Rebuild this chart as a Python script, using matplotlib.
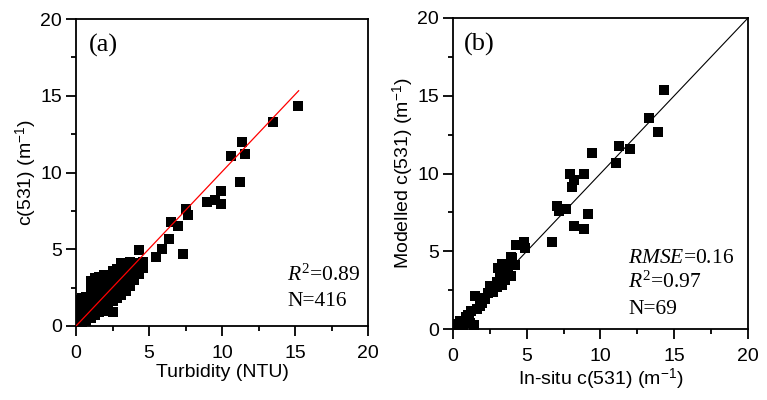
import numpy as np
import matplotlib
matplotlib.use("Agg")
import matplotlib.pyplot as plt
from matplotlib.ticker import MultipleLocator

plt.rcParams.update({
    "font.family": ["Liberation Sans", "DejaVu Sans"],
    "mathtext.fontset": "custom",
    "mathtext.rm": "Liberation Sans",
    "mathtext.it": "Liberation Serif:italic",
    "mathtext.sf": "Liberation Serif",
})

# ── panel (a): c(531) vs turbidity ────────────────────────────────────────────
turb_a = [
    0.1, 0.1, 0.1, 0.1, 0.1,
    0.4, 0.4, 0.4, 0.4, 0.4,
    0.7, 0.7, 0.7, 0.7, 0.7,
    1.0, 1.0, 1.0, 1.0, 1.0, 1.0, 1.0,
    1.3, 1.3, 1.3, 1.3, 1.3, 1.3, 1.3,
    1.6, 1.6, 1.6, 1.6, 1.6, 1.6, 1.6,
    1.9, 1.9, 1.9, 1.9, 1.9, 1.9, 1.9,
    2.2, 2.2, 2.2, 2.2, 2.2, 2.2,
    2.5, 2.5, 2.5, 2.5, 2.5, 2.5, 2.5,
    2.8, 2.8, 2.8, 2.8, 2.8, 2.8,
    3.1, 3.1, 3.1, 3.1, 3.1, 3.1,
    3.4, 3.4, 3.4, 3.4,
    3.7, 3.7, 3.7, 3.7,
    4.0, 4.0, 4.0,
    4.3, 4.3, 4.3,
    4.6, 4.6,
    5.5, 5.9, 6.4, 6.5, 7.0, 7.3, 7.5, 7.7,
    8.95, 9.5, 9.9, 9.95, 10.6, 11.2, 11.4, 11.6, 13.5, 15.2,
]
c_a = [
    0.1, 0.5, 0.9, 1.3, 1.7,
    0.2, 0.6, 1.0, 1.4, 1.8,
    0.3, 0.7, 1.1, 1.5, 1.9,
    0.5, 0.9, 1.3, 1.7, 2.1, 2.5, 2.9,
    0.7, 1.1, 1.5, 1.9, 2.3, 2.7, 3.1,
    0.9, 1.3, 1.7, 2.1, 2.5, 2.9, 3.2,
    1.0, 1.4, 1.8, 2.2, 2.6, 3.0, 3.3,
    1.3, 1.7, 2.1, 2.5, 2.9, 3.3,
    0.9, 1.6, 2.0, 2.4, 2.8, 3.2, 3.6,
    1.8, 2.2, 2.6, 3.0, 3.4, 3.7,
    2.0, 2.4, 2.8, 3.2, 3.6, 4.1,
    2.3, 2.9, 3.4, 3.9,
    2.6, 3.1, 3.6, 4.2,
    3.0, 3.5, 4.1,
    3.4, 3.9, 4.95,
    3.8, 4.2,
    4.5, 5.0, 5.7, 6.8, 6.5, 4.7, 7.6, 7.2,
    8.1, 8.2, 7.95, 8.8, 11.1, 9.4, 12.0, 11.2, 13.3, 14.3,
]
fit_x = [0.0, 15.25]
fit_slope = 1.005

# ── panel (b): modelled vs in-situ c(531) ─────────────────────────────────────
insitu_b = [
    14.3, 13.3, 13.9, 11.25, 12.0, 11.07, 9.4, 7.9, 8.86, 8.2, 8.1,
    7.2, 7.66, 7.05, 9.16, 8.2, 8.86, 6.7, 4.3, 4.8, 4.9, 4.2, 3.9,
    3.6, 3.4, 3.07, 3.2, 3.9, 3.3, 2.5, 2.4, 1.9, 1.5, 1.8, 1.25,
    0.9, 1.15, 0.45, 0.25, 0.7, 1.4, 1.1, 0.15, 0.6, 2.95, 3.5, 3.75,
    3.97, 4.5, 2.7, 2.2, 1.6, 1.0, 0.35, 0.8, 3.0, 3.3, 2.0,
]
model_b = [
    15.4, 13.6, 12.7, 11.76, 11.55, 10.7, 11.3, 10.0, 10.0, 9.6, 9.1,
    7.6, 7.7, 7.9, 7.4, 6.6, 6.4, 5.6, 5.4, 5.6, 5.2, 4.1, 4.6,
    4.0, 3.6, 3.9, 3.3, 3.4, 2.85, 2.75, 2.3, 2.0, 2.1, 1.45, 1.15,
    0.8, 0.4, 0.5, 0.3, 0.2, 0.25, 0.6, 0.15, 0.35, 2.7, 3.15, 3.5,
    4.57, 5.4, 2.4, 1.9, 1.3, 0.9, 0.1, 0.5, 3.0, 4.2, 1.7,
]


def style_axes(ax):
    ax.set_xlim(0, 20)
    ax.set_ylim(0, 20)
    for s in ax.spines.values():
        s.set_linewidth(1.3)
    ax.xaxis.set_major_locator(MultipleLocator(5))
    ax.yaxis.set_major_locator(MultipleLocator(5))
    ax.xaxis.set_minor_locator(MultipleLocator(2.5))
    ax.yaxis.set_minor_locator(MultipleLocator(2.5))
    ax.tick_params(which="both", direction="out", width=1.3, top=False, right=False)
    ax.tick_params(which="major", length=7, labelsize=14)
    ax.tick_params(axis="x", which="major", pad=7)
    ax.tick_params(axis="y", which="major", pad=3)
    ax.tick_params(which="minor", length=3.5)


serif = ["Liberation Serif", "DejaVu Serif"]

fig = plt.figure(figsize=(7.67, 4.0), dpi=100)
ax_a = fig.add_axes([0.0991, 0.185, 0.3807, 0.7675])
ax_b = fig.add_axes([0.5906, 0.1775, 0.3846, 0.7775])

# (a)
ax_a.scatter(turb_a, c_a, marker="s", s=60, color="black", linewidths=0, zorder=2)
fx = np.array(fit_x)
ax_a.plot(fx, fit_slope * fx, color="red", lw=0.9, zorder=3)
style_axes(ax_a)
ax_a.set_xlabel("Turbidity (NTU)", fontsize=14, labelpad=1)
ax_a.set_ylabel(r"c(531) (m$^{-1}$)", fontsize=14, labelpad=1)
ax_a.text(0.9, 18.3, "(a)", family=serif, fontsize=19, va="center")
ax_a.text(14.45, 2.93, r"$R^{\mathsf{2}}$=0.89", family=serif, fontsize=15.5)
ax_a.text(14.5, 1.3, "N=416", family=serif, fontsize=15.5)

# (b)
ax_b.scatter(insitu_b, model_b, marker="s", s=60, color="black", linewidths=0, zorder=2)
ax_b.plot([0, 20], [0, 20], color="black", lw=0.8, zorder=3)
style_axes(ax_b)
ax_b.set_xlabel(r"In-situ c(531) (m$^{-1}$)", fontsize=14, labelpad=1)
ax_b.set_ylabel(r"Modelled c(531) (m$^{-1}$)", fontsize=14, labelpad=1)
ax_b.text(0.75, 18.3, "(b)", family=serif, fontsize=19, va="center")
ax_b.text(11.87, 4.24, r"$RMSE$=0.16", family=serif, fontsize=15.5)
ax_b.text(11.87, 2.64, r"$R^{\mathsf{2}}$=0.97", family=serif, fontsize=15.5)
ax_b.text(11.87, 0.96, "N=69", family=serif, fontsize=15.5)

fig.savefig("out.png", dpi=100)
